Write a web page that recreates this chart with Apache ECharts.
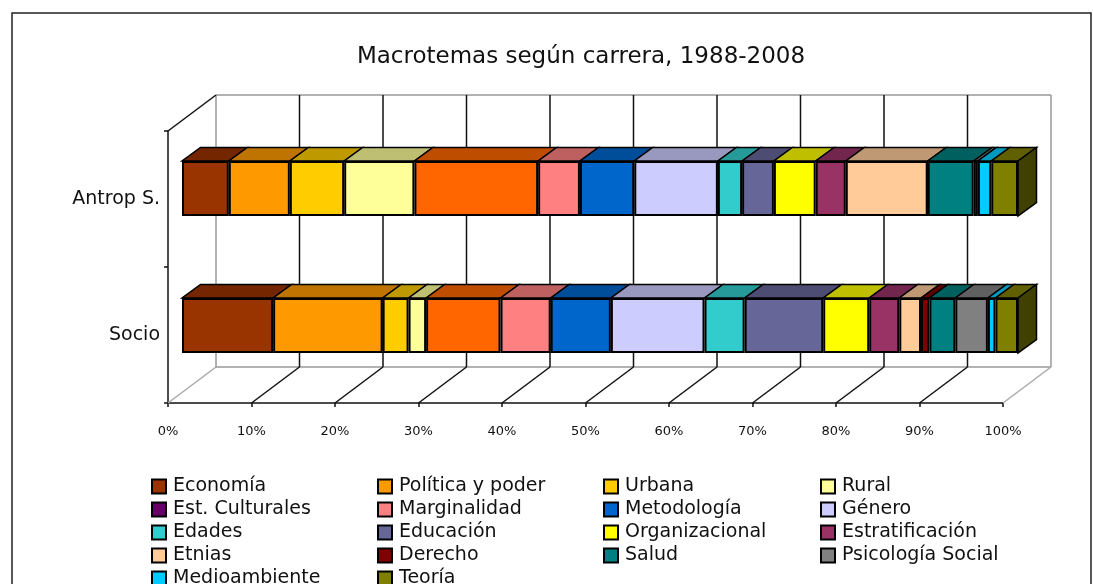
<!DOCTYPE html>
<html><head><meta charset="utf-8">
<style>html,body{margin:0;padding:0;background:#fff}#c{width:1093px;height:584px}</style>
<script src="https://cdn.jsdelivr.net/npm/echarts@6/dist/echarts.min.js"></script>
</head><body><div id="c"></div>
<script>
const categories = ['Socio', 'Antrop S.'];
const themes = ['Economía','Política y poder','Urbana','Rural','Est. Culturales','Marginalidad','Metodología','Género','Edades','Educación','Organizacional','Estratificación','Etnias','Derecho','Salud','Psicología Social','Medioambiente','Teoría'];
const socio =  [10.9,13.1,3.1,2.1,8.9,6.0,7.2,11.2,4.8,9.4,5.5,3.6,2.6,1.0,3.1,3.9,0.9,2.7];
const antrop = [5.6,7.3,6.5,8.4,14.8,5.0,6.5,10.0,2.9,3.8,5.0,3.6,9.8,0,5.5,0.5,1.6,3.2];
const colors = ['#993300','#FF9900','#FFCC00','#FFFF99','#FF6600','#FF8080','#0066CC','#CCCCFF','#33CCCC','#666699','#FFFF00','#993366','#FFCC99','#800000','#008080','#808080','#00CCFF','#808000'];
const legendColors = colors.map((c,i)=> i===4 ? '#660066' : c);
const ticks = [0,10,20,30,40,50,60,70,80,90,100];

const FONT = '"DejaVu Sans"';
const WALL = [48,-36], BAR = [18.5,-13.5], BAR_H = 55;
const shade = (hex,k)=>'#'+[1,3,5].map(i=>Math.round(parseInt(hex.substr(i,2),16)*k).toString(16).padStart(2,'0')).join('');

function line(a,b,stroke){return {type:'line',shape:{x1:a[0],y1:a[1],x2:b[0],y2:b[1]},style:{stroke,lineWidth:1.5,fill:null}};}

// 3D faces of each stacked segment
const faces = [];
[socio,antrop].forEach((vals,cat)=>{
  let s=0;
  vals.forEach((v,i)=>{ if(v>0) faces.push([s,cat,s+v,i]); s+=v; });
});
const lastIdx = themes.length-1;

const barSeries = themes.map((name,i)=>({
  name, type:'bar', stack:'total', xAxisIndex:1, yAxisIndex:1, barWidth:BAR_H, z:5,
  itemStyle:{color:colors[i],borderColor:'#000',borderWidth:2},
  data:[socio[i],antrop[i]], emphasis:{disabled:true}
}));

const option = {
  animation:false,
  backgroundColor:'#fff',
  title:{text:'Macrotemas según carrera, 1988-2008',left:576,top:41,textAlign:'center',
    textStyle:{fontFamily:FONT,fontSize:23,fontWeight:'normal',color:'#111'}},
  graphic:[{type:'rect',silent:true,shape:{x:12,y:13,width:1079,height:590},style:{fill:null,stroke:'#222',lineWidth:1.5},z:0}],
  grid:[
    {left:168,top:131,width:835,height:272},
    {left:182,top:120,width:836,height:274}
  ],
  xAxis:[
    {type:'value',gridIndex:0,min:0,max:100,interval:10,
     axisLine:{show:true,lineStyle:{color:'#111',width:1.5}},
     axisTick:{show:true,length:4,lineStyle:{color:'#111',width:1.5}},
     splitLine:{show:false},
     axisLabel:{formatter:'{value}%',margin:22,fontFamily:FONT,fontSize:13,color:'#111',hideOverlap:false,showMinLabel:true,showMaxLabel:true}},
    {type:'value',gridIndex:1,min:0,max:100,show:false,splitLine:{show:false}}
  ],
  yAxis:[
    {type:'category',gridIndex:0,data:categories,
     axisLine:{show:true,lineStyle:{color:'#111',width:1.5}},
     axisTick:{show:true,length:4,lineStyle:{color:'#111',width:1.5}},
     axisLabel:{margin:8,fontFamily:FONT,fontSize:19,color:'#111'}},
    {type:'category',gridIndex:1,data:categories,show:false}
  ],
  legend:[0,1,2,3].map(col=>({
    orient:'vertical',left:[151,377,603,820][col],top:477,padding:0,itemWidth:14,itemHeight:14,itemGap:4,height:140,
    selectedMode:false,icon:'rect',
    data:themes.map((n,i)=>({name:n,i})).filter(o=>o.i%4===col).map(o=>({name:o.name,itemStyle:{color:legendColors[o.i],borderColor:'#000',borderWidth:2}})),
    textStyle:{fontFamily:FONT,fontSize:19,color:'#111',padding:[0,0,0,2]}
  })),
  series:[
    {type:'custom',name:'walls',xAxisIndex:0,yAxisIndex:0,z:1,silent:true,data:ticks.map(t=>[t]),
     encode:{x:0},
     renderItem(params,api){
       const t=api.value(0);
       const cs=params.coordSys;
       const x=api.coord([t,0])[0];
       const yB=cs.y+cs.height, yT=cs.y;
       const edge=t===0||t===100;
       const front=[x,yB], top=[x,yT];
       const back=[x+WALL[0],yB+WALL[1]], backTop=[x+WALL[0],yT+WALL[1]];
       const kids=[
         line(front,back,edge?'#aaa':'#111'),
         line(back,backTop,edge?'#999':'#111')
       ];
       if(t===0){
         kids.push(line(back,[back[0]+cs.width,back[1]],'#999'));
         kids.push(line(backTop,[backTop[0]+cs.width,backTop[1]],'#999'));
         kids.push(line(top,backTop,'#111'));
       }
       return {type:'group',children:kids};
     }},
    {type:'custom',name:'faces',xAxisIndex:1,yAxisIndex:1,z:4,silent:true,data:faces,
     encode:{x:[0,2],y:1},
     renderItem(params,api){
       const s=api.coord([api.value(0),api.value(1)]);
       const e=api.coord([api.value(2),api.value(1)]);
       const i=api.value(3);
       const yt=s[1]-BAR_H/2, yb=s[1]+BAR_H/2;
       const dx=BAR[0], dy=BAR[1];
       const kids=[{type:'polygon',shape:{points:[[s[0],yt],[e[0],yt],[e[0]+dx,yt+dy],[s[0]+dx,yt+dy]]},
         style:{fill:shade(colors[i],0.75),stroke:'#000',lineWidth:1.5}}];
       if(i===lastIdx) kids.push({type:'polygon',shape:{points:[[e[0],yt],[e[0]+dx,yt+dy],[e[0]+dx,yb+dy],[e[0],yb]]},
         style:{fill:shade(colors[i],0.5),stroke:'#000',lineWidth:1.5}});
       return {type:'group',children:kids};
     }},
    ...barSeries
  ]
};
echarts.init(document.getElementById('c'),null,{renderer:'canvas'}).setOption(option);
</script></body></html>
